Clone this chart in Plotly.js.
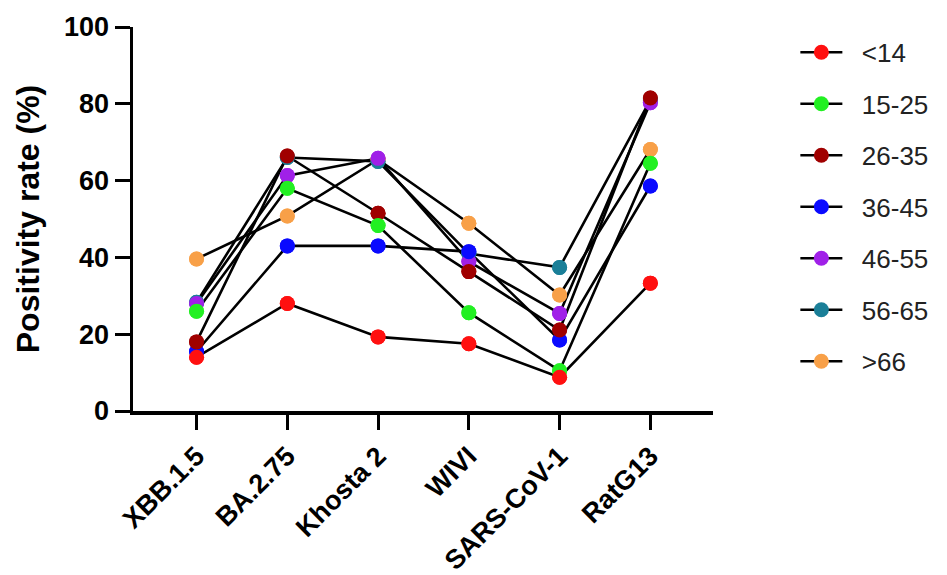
<!DOCTYPE html>
<html><head><meta charset="utf-8">
<script src="https://cdn.plot.ly/plotly-3.0.1.min.js"></script>
<style>html,body{margin:0;padding:0;background:#fff}#chart{width:947px;height:575px}</style>
</head><body><div id="chart"></div>
<script>
const categories = ['XBB.1.5','BA.2.75','Khosta 2','WIVI','SARS-CoV-1','RatG13'];
const seriesNames = ['<14','15-25','26-35','36-45','46-55','56-65','>66'];
const seriesColors = ['#ff1010','#22f022','#a00000','#0a0aff','#a020e8','#1a7f98','#f8a048'];
const ageLt14  = [14, 28, 19.3, 17.5, 8.8, 33.3];
const age15_25 = [26, 58, 48.3, 25.6, 10.5, 64.5];
const age26_35 = [18, 66.4, 51.5, 36.3, 21.1, 81.5];
const age36_45 = [15.5, 43, 43, 41.5, 18.5, 58.6];
const age46_55 = [28, 61.3, 65.8, 38.9, 25.4, 80.3];
const age56_65 = [28.3, 66, 65, 41, 37.4, 81];
const ageGt66  = [39.6, 50.8, 65.5, 48.9, 30.2, 68.1];
const seriesValues = [ageLt14, age15_25, age26_35, age36_45, age46_55, age56_65, ageGt66];

const FONT = '"Liberation Sans", Arial, sans-serif';
const NB = '\u00a0\u00a0';
const traces = [];
seriesNames.forEach((name, i) => {
  traces.push({
    type: 'scatter', mode: 'lines+markers', name: NB + name,
    x: categories, y: seriesValues[i],
    legendgroup: 'g' + i,
    line: {color: '#000', width: 2.6},
    marker: {color: seriesColors[i], size: 15, line: {width: 0}},
    cliponaxis: false
  });
});
for (let i = seriesNames.length - 1; i >= 0; i--) {
  traces.push({
    type: 'scatter', mode: 'markers', name: seriesNames[i],
    x: categories, y: seriesValues[i],
    showlegend: false, hoverinfo: 'skip',
    marker: {color: seriesColors[i], size: 15, line: {width: 0}},
    cliponaxis: false
  });
}

const layout = {
  width: 947, height: 575,
  margin: {l: 133, r: 234, t: 27, b: 164, autoexpand: false},
  paper_bgcolor: '#fff', plot_bgcolor: '#fff',
  font: {family: FONT, color: '#000'},
  showlegend: true,
  legend: {
    x: 1.142, y: 0.995, xanchor: 'left', yanchor: 'top',
    font: {family: FONT, size: 26, color: '#222'},
    itemwidth: 42, tracegroupgap: 14.7, traceorder: 'grouped',
    maxheight: 560,
    bgcolor: 'rgba(0,0,0,0)'
  },
  xaxis: {
    type: 'category', range: [-0.7, 5.69],
    showgrid: false, zeroline: false,
    showline: true, linecolor: '#000', linewidth: 3.5,
    ticks: 'outside', ticklen: 15, tickwidth: 3, tickcolor: '#000',
    tickangle: -45,
    tickfont: {family: FONT, size: 27, color: '#000', weight: 'bold'}
  },
  yaxis: {
    range: [0, 100], tickvals: [0, 20, 40, 60, 80, 100],
    showgrid: false, zeroline: false,
    showline: true, linecolor: '#000', linewidth: 3.5,
    ticks: 'outside', ticklen: 15, tickwidth: 3, tickcolor: '#000',
    tickfont: {family: FONT, size: 27, color: '#000', weight: 'bold'},
    title: {text: 'Positivity rate (%)', standoff: 16,
            font: {family: FONT, size: 32, color: '#000', weight: 'bold'}}
  }
};
Plotly.newPlot('chart', traces, layout, {displayModeBar: false, staticPlot: true});
</script></body></html>
